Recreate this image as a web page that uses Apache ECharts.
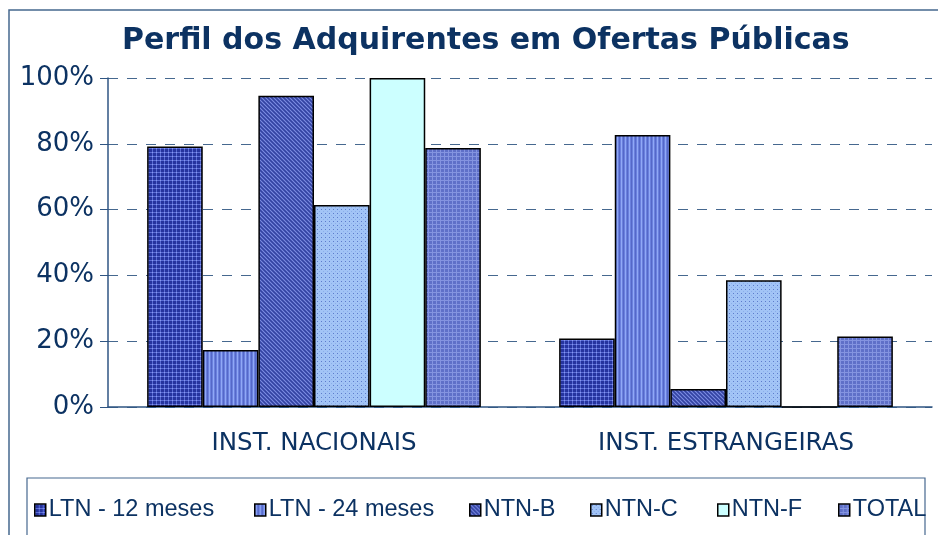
<!DOCTYPE html>
<html><head><meta charset="utf-8">
<script src="https://cdn.jsdelivr.net/npm/echarts@6/dist/echarts.min.js"></script>
<style>html,body{margin:0;padding:0;background:#fff}#c{width:938px;height:535px}</style>
</head><body><div id="c"></div>
<script>
const categories = ['INST. NACIONAIS', 'INST. ESTRANGEIRAS'];
const seriesNames = ['LTN - 12 meses', 'LTN - 24 meses', 'NTN-B', 'NTN-C', 'NTN-F', 'TOTAL'];
const ltn12 = [79.2, 20.8];
const ltn24 = [17.3, 82.7];
const ntnb = [94.6, 5.5];
const ntnc = [61.4, 38.5];
const ntnf = [100, 0];
const total = [78.7, 21.4];
const yTicks = [0, 20, 40, 60, 80, 100];
const title = 'Perfil dos Adquirentes em Ofertas Públicas';

function tile(w, h, base, draw) {
  const c = document.createElement('canvas');
  c.width = w; c.height = h;
  const g = c.getContext('2d');
  g.fillStyle = base; g.fillRect(0, 0, w, h);
  draw(g);
  return { image: c, repeat: 'repeat' };
}
function px(g, col, pts) { g.fillStyle = col; pts.forEach(p => g.fillRect(p[0], p[1], 1, 1)); }

const patterns = [
  tile(4, 4, '#26349e', g => { g.fillStyle = '#5a6cd6'; g.fillRect(0, 0, 4, 1); g.fillRect(0, 0, 1, 4); px(g, '#8a9aee', [[0,0]]); }),
  tile(4, 1, '#6a80de', g => { px(g, '#90a8f6', [[1,0]]); px(g, '#5468c8', [[3,0]]); }),
  tile(4, 4, '#4656b6', g => { px(g, '#7a8ade', [[0,0],[1,1],[2,2],[3,3]]); px(g, '#3444a0', [[2,0],[3,1],[0,2],[1,3]]); }),
  tile(4, 4, '#a2c4f6', g => { px(g, '#5d7ccc', [[1,1]]); px(g, '#8aaeea', [[3,3]]); }),
  '#ccffff',
  tile(4, 4, '#5f70c8', g => { g.fillStyle = '#8494e0'; g.fillRect(0, 0, 4, 1); g.fillRect(0, 0, 1, 4); })
];
const dataSets = [ltn12, ltn24, ntnb, ntnc, ntnf, total];
const legendLeft = [29, 249, 464, 585, 712, 833];

const navy = '#0c3262';
const axisCol = '#2f5583';
const chart = echarts.init(document.getElementById('c'));
chart.setOption({
  animation: false,
  title: {
    text: title, left: 117, top: 21,
    textStyle: { fontFamily: 'DejaVu Sans', fontWeight: 'bold', fontSize: 30, color: navy }
  },
  legend: seriesNames.map((n, i) => ({
    data: [n], left: legendLeft[i], top: 493, icon: 'rect', itemWidth: 11, itemHeight: 12,
    itemStyle: { borderColor: '#000', borderWidth: 1.5 },
    textStyle: { fontFamily: 'Liberation Sans Narrow, Liberation Sans', fontSize: 23.5, color: navy, padding: [0,0,0,-2] }
  })),
  grid: { left: 108, right: 6, top: 78, bottom: 128, containLabel: false },
  xAxis: {
    type: 'category', data: categories,
    axisLine: { lineStyle: { color: axisCol, width: 1.5 } },
    axisTick: { show: false },
    axisLabel: { fontFamily: 'DejaVu Sans', fontSize: 24.5, color: navy, margin: 24 }
  },
  yAxis: {
    type: 'value', min: 0, max: 100, interval: 20,
    axisLine: { show: true, lineStyle: { color: axisCol, width: 1.5 } },
    axisTick: { show: true, length: 8, lineStyle: { color: axisCol } },
    axisLabel: { formatter: v => yTicks.includes(v) ? v + '%' : '', fontFamily: 'DejaVu Sans', fontSize: 26, color: navy, margin: 14 },
    splitLine: { lineStyle: { color: '#46688f', type: [10, 9], width: 1.2 } }
  },
  series: seriesNames.map((n, i) => ({
    name: n, type: 'bar', data: dataSets[i],
    barGap: 0, barCategoryGap: '19%',
    itemStyle: { color: patterns[i], borderColor: '#000', borderWidth: 1.5 }
  })),
  graphic: [
    { type: 'rect', shape: { x: 9, y: 10, width: 960, height: 560 }, style: { fill: 'none', stroke: '#46688f', lineWidth: 1.5 }, silent: true },
    { type: 'rect', shape: { x: 27, y: 478, width: 898, height: 60 }, style: { fill: 'none', stroke: '#46688f', lineWidth: 1.2 }, silent: true }
  ]
});
</script></body></html>
